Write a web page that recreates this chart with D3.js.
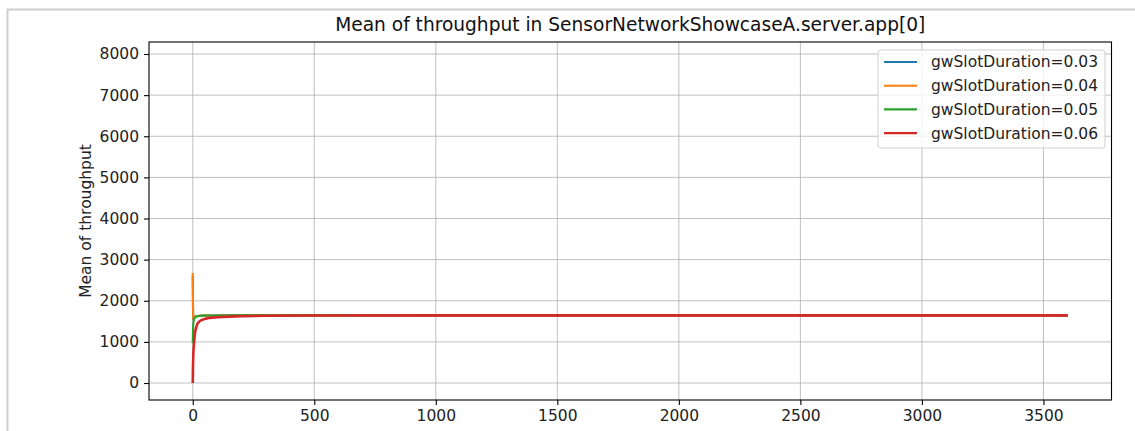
<!DOCTYPE html>
<html>
<head>
<meta charset="utf-8">
<script src="https://cdn.jsdelivr.net/npm/d3@7"></script>
<style>
  body { margin: 0; background: #fff; }
  svg { display: block; font-family: "DejaVu Sans", sans-serif; }
</style>
</head>
<body>
<div id="chart"></div>
<script>
// data
var times = [0, 1, 2, 3, 5, 7, 10, 15, 20, 30, 40, 50, 70, 100, 150, 200, 300, 500, 1000, 2000, 3600];
var slot003 = [2600, 1850, 1550, 1575, 1600, 1610, 1620, 1625, 1630, 1635, 1638, 1640, 1642, 1643, 1644, 1645, 1645, 1645, 1645, 1645, 1645];
var slot004 = [2675, 1900, 1560, 1580, 1600, 1610, 1620, 1625, 1630, 1635, 1638, 1640, 1642, 1643, 1644, 1645, 1645, 1645, 1645, 1645, 1645];
var slot005 = [970, 1300, 1420, 1480, 1540, 1570, 1595, 1615, 1625, 1633, 1637, 1640, 1642, 1643, 1644, 1645, 1645, 1645, 1645, 1645, 1645];
var slot006 = [0, 400, 650, 800, 950, 1100, 1250, 1370, 1450, 1510, 1540, 1560, 1585, 1600, 1615, 1625, 1635, 1641, 1644, 1645, 1645];
var seriesNames = ['gwSlotDuration=0.03', 'gwSlotDuration=0.04', 'gwSlotDuration=0.05', 'gwSlotDuration=0.06'];
var xTicks = [0, 500, 1000, 1500, 2000, 2500, 3000, 3500];
var yTicks = [0, 1000, 2000, 3000, 4000, 5000, 6000, 7000, 8000];

var colors = ['#1f77b4', '#ff7f0e', '#2ca02c', '#d62728'];
var allSeries = [slot003, slot004, slot005, slot006];

var width = 1135, height = 431;
var plot = { left: 149, right: 1111.5, top: 42, bottom: 400 };
var fontSize = '15.5px';

var svg = d3.select('#chart').append('svg')
    .attr('width', width)
    .attr('height', height);

// notebook output frame
svg.append('path')
    .attr('d', 'M7.5,' + height + 'V9.5H' + width)
    .attr('fill', 'none')
    .attr('stroke', '#cfcfcf')
    .attr('stroke-width', 2);

var x = d3.scaleLinear().domain([-180, 3780]).range([plot.left, plot.right]);
var y = d3.scaleLinear().domain([-413, 8292]).range([plot.bottom, plot.top]);

// grid
var grid = svg.append('g').attr('stroke', '#b0b0b0').attr('stroke-width', 0.8);
grid.selectAll('.gx').data(xTicks).enter().append('line')
    .attr('x1', function(d) { return x(d); }).attr('x2', function(d) { return x(d); })
    .attr('y1', plot.top).attr('y2', plot.bottom);
grid.selectAll('.gy').data(yTicks).enter().append('line')
    .attr('y1', function(d) { return y(d); }).attr('y2', function(d) { return y(d); })
    .attr('x1', plot.left).attr('x2', plot.right);

// lines
var line = d3.line()
    .x(function(d, i) { return x(times[i]); })
    .y(function(d) { return y(d); });

svg.append('g').selectAll('path')
    .data(allSeries)
    .enter()
    .append('path')
    .attr('d', line)
    .attr('fill', 'none')
    .attr('stroke', function(d, i) { return colors[i]; })
    .attr('stroke-width', function(d, i) { return i == 3 ? 2.6 : 2.1; })
    .attr('stroke-linejoin', 'round');

// axes
var xAxis = d3.axisBottom(x).tickValues(xTicks).tickSize(5).tickPadding(5).tickFormat(d3.format('d'));
var yAxis = d3.axisLeft(y).tickValues(yTicks).tickSize(5).tickPadding(5).tickFormat(d3.format('d'));

var gx = svg.append('g').attr('transform', 'translate(0,' + plot.bottom + ')').call(xAxis);
var gy = svg.append('g').attr('transform', 'translate(' + plot.left + ',0)').call(yAxis);
[gx, gy].forEach(function(g) {
    g.select('.domain').remove();
    g.selectAll('line').attr('stroke', '#000').attr('stroke-width', 1.1);
    g.selectAll('text').attr('fill', '#222').style('font-size', fontSize).style('font-family', '"DejaVu Sans", sans-serif');
});

svg.append('rect')
    .attr('x', plot.left).attr('y', plot.top)
    .attr('width', plot.right - plot.left).attr('height', plot.bottom - plot.top)
    .attr('fill', 'none').attr('stroke', '#000').attr('stroke-width', 1.1);

// title and label
svg.append('text')
    .attr('x', (plot.left + plot.right) / 2).attr('y', 31)
    .attr('text-anchor', 'middle')
    .style('font-size', '18.6px')
    .attr('fill', '#111')
    .text('Mean of throughput in SensorNetworkShowcaseA.server.app[0]');

svg.append('text')
    .attr('transform', 'translate(91,' + ((plot.top + plot.bottom) / 2) + ') rotate(-90)')
    .attr('text-anchor', 'middle')
    .style('font-size', fontSize)
    .attr('fill', '#222')
    .text('Mean of throughput');

// legend
var legend = svg.append('g').attr('transform', 'translate(878,50)');
legend.append('rect')
    .attr('width', 227).attr('height', 98)
    .attr('rx', 3)
    .attr('fill', 'rgba(255,255,255,0.8)')
    .attr('stroke', '#d0d0d0');

var item = legend.selectAll('.item')
    .data(seriesNames)
    .enter()
    .append('g')
    .attr('transform', function(d, i) { return 'translate(0,' + (12 + i * 23.7) + ')'; });
item.append('line')
    .attr('x1', 6).attr('x2', 39)
    .attr('stroke', function(d, i) { return colors[i]; })
    .attr('stroke-width', 2.1);
item.append('text')
    .attr('x', 53).attr('dy', '0.35em')
    .style('font-size', fontSize)
    .attr('fill', '#222')
    .text(function(d) { return d; });
</script>
</body>
</html>
